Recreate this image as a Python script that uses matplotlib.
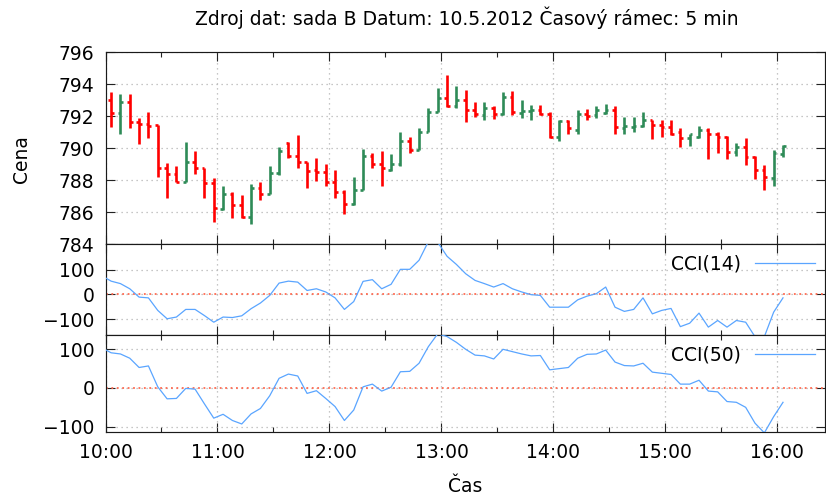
import numpy as np
import matplotlib
matplotlib.use("Agg")
import matplotlib.pyplot as plt
from matplotlib.ticker import FixedLocator, FuncFormatter, MultipleLocator

# ---------------- data ----------------
title = "Zdroj dat: sada B Datum: 10.5.2012 Časový rámec: 5 min"

# bar times in minutes after 10:00 (5-minute bars)
bar_minutes = [3 + 5 * k for k in range(73)]

opens = [793.0, 792.2, 792.9, 791.6, 791.5, 791.45, 788.75, 788.4, 787.85, 789.1,
         788.75, 787.8, 786.2, 787.1, 786.45, 785.7, 787.5, 787.15, 788.45, 790.3,
         789.5, 789.1, 788.6, 788.5, 787.9, 787.25, 786.5, 787.4, 789.5, 789.0,
         788.65, 789.0, 790.45, 789.9, 791.0, 792.25, 793.1, 792.6, 793.0, 792.4,
         792.05, 792.5, 792.15, 793.2, 792.2, 792.3, 792.35, 792.15, 790.7, 791.7,
         791.15, 792.15, 792.05, 792.2, 792.35, 791.25, 791.3, 791.4, 791.75, 791.45,
         791.3, 791.0, 790.6, 790.7, 791.1, 790.9, 790.7, 789.75, 790.05, 789.45,
         788.65, 788.15, 789.6]
highs = [793.5, 793.35, 793.35, 791.9, 792.25, 791.45, 789.05, 788.85, 790.35, 789.8,
         788.75, 788.1, 787.65, 787.25, 787.05, 787.75, 787.9, 788.85, 790.05, 790.4,
         790.8, 789.15, 789.4, 789.0, 788.65, 787.4, 788.2, 789.95, 789.7, 789.8,
         789.65, 791.0, 790.7, 791.25, 792.5, 793.75, 794.55, 793.85, 793.65, 792.85,
         792.85, 792.65, 793.5, 793.55, 793.0, 792.7, 792.7, 792.25, 791.75, 791.75,
         792.4, 792.45, 792.65, 792.75, 792.65, 791.95, 791.95, 792.25, 791.75, 791.75,
         791.75, 791.25, 790.9, 791.4, 791.25, 791.0, 790.75, 790.3, 790.65, 789.5,
         788.95, 789.9, 790.2]
lows = [791.3, 790.9, 791.25, 790.25, 790.6, 788.2, 786.9, 787.85, 787.85, 788.4,
        786.9, 785.4, 786.1, 785.65, 785.65, 785.25, 786.75, 787.15, 788.3, 789.35,
        788.75, 787.5, 787.95, 787.65, 786.85, 785.9, 786.45, 787.35, 788.75, 787.65,
        788.55, 788.85, 789.7, 789.85, 791.0, 792.25, 792.55, 792.5, 791.65, 791.95,
        791.75, 791.8, 792.05, 792.05, 791.85, 791.75, 792.05, 790.65, 790.45, 790.9,
        790.9, 791.75, 791.85, 792.1, 790.9, 790.9, 791.0, 791.3, 790.55, 790.7,
        790.8, 790.05, 790.15, 790.65, 789.3, 789.7, 789.3, 789.5, 788.95, 788.05,
        787.35, 787.65, 789.45]
closes = [792.2, 792.9, 791.65, 791.5, 791.35, 788.75, 788.4, 787.9, 789.1, 788.75,
          787.8, 786.25, 787.1, 786.45, 785.7, 787.5, 787.15, 788.45, 789.8, 789.5,
          789.1, 788.55, 788.5, 787.9, 787.25, 786.5, 787.4, 789.5, 789.0, 788.75,
          789.0, 790.45, 789.9, 791.0, 792.25, 793.1, 792.6, 793.0, 792.4, 792.15,
          792.5, 792.15, 793.2, 792.25, 792.3, 792.35, 792.15, 790.7, 791.7, 791.25,
          792.15, 792.0, 792.35, 792.35, 791.3, 791.4, 791.4, 791.75, 791.45, 791.3,
          790.9, 790.6, 790.85, 791.15, 790.9, 790.7, 789.75, 790.05, 789.45, 788.65,
          788.2, 789.7, 790.1]

# CCI values (first value belongs to the bar just before 10:00)
cci_minutes = [-2] + bar_minutes
cci14 = [76, 54, 44, 23, -11, -14, -65, -99, -92, -61,
         -61, -86, -113, -92, -94, -87, -58, -35, -4, 46,
         54, 50, 16, 23, 10, -14, -61, -29, 53, 60,
         23, 41, 102, 102, 139, 215, 212, 155, 122, 84,
         57, 44, 30, 44, 23, 10, -1, -4, -52, -52,
         -52, -22, -7, 3, 30, -52, -69, -61, -14, -79,
         -65, -57, -131, -117, -76, -133, -106, -133, -106, -113,
         -172, -172, -72, -14]
cci50 = [104, 91, 88, 77, 53, 57, 3, -28, -27, -1,
         -3, -41, -78, -68, -84, -93, -67, -53, -20, 25,
         36, 31, -14, -7, -27, -48, -84, -57, 3, 10,
         -8, 2, 42, 43, 64, 107, 140, 133, 118, 100,
         85, 83, 75, 100, 94, 88, 83, 84, 47, 50,
         53, 77, 87, 88, 98, 67, 58, 57, 64, 41,
         38, 35, 10, 10, 20, -8, -10, -35, -37, -50,
         -91, -116, -74, -37]

up_color = "#2e8b57"
down_color = "#ff0000"
cci_color = "#5aa5ff"
zero_color = "#ff6a50"

# ---------------- figure ----------------
plt.rcParams['font.family'] = ['DejaVu Sans']
FS = 13.5
W, H = 826, 497
fig = plt.figure(figsize=(W / 100, H / 100), dpi=100)

left = 105.5 / W
right = 825.0 / W
def ypos(top_px, bot_px):
    return [left, 1 - bot_px / H, right - left, (bot_px - top_px) / H]

ax1 = fig.add_axes(ypos(52, 244))
ax2 = fig.add_axes(ypos(244, 335))
ax3 = fig.add_axes(ypos(335, 431.7))

xmin, xmax = 0, 385.5
hour_ticks = [0, 60, 120, 180, 240, 300, 360]
half_ticks = [30, 90, 150, 210, 270, 330]

def fmt_time(v, pos):
    h = 10 + int(v // 60)
    m = int(v % 60)
    return f"{h}:{m:02d}"

grid_kw = dict(color="#b4b4b4", linestyle=(0, (1, 3)), linewidth=0.9)

for ax in (ax1, ax2, ax3):
    ax.set_xlim(xmin, xmax)
    ax.xaxis.set_major_locator(FixedLocator(hour_ticks))
    ax.xaxis.set_minor_locator(FixedLocator(half_ticks))
    ax.tick_params(axis="both", which="major", direction="in", length=6.5, width=0.8,
                   color="#222222", top=True, right=True, labelsize=FS, pad=8)
    ax.tick_params(axis="both", which="minor", direction="in", length=3.5, width=0.8,
                   color="#222222", top=True, right=True)
    ax.grid(True, which="major", **grid_kw)
    for s in ax.spines.values():
        s.set_linewidth(0.85)
        s.set_color("#1a1a1a")
    ax.set_axisbelow(True)

ax1.tick_params(labelbottom=False)
ax2.tick_params(labelbottom=False)
ax3.xaxis.set_major_formatter(FuncFormatter(fmt_time))

# ---------------- price bars ----------------
tick_len = 1.5
for t, o, h, l, c in zip(bar_minutes, opens, highs, lows, closes):
    col = up_color if c >= o else down_color
    ax1.plot([t, t], [l, h], color=col, lw=1.9, solid_capstyle="butt")
    ax1.plot([t - tick_len, t], [o, o], color=col, lw=1.9, solid_capstyle="butt")
    ax1.plot([t, t + tick_len], [c, c], color=col, lw=1.9, solid_capstyle="butt")

ax1.set_ylim(784, 796)
ax1.yaxis.set_major_locator(MultipleLocator(2))

# ---------------- CCI panels ----------------
def cci_panel(ax, vals, label, ylim):
    ax.axhline(0, color=zero_color, linestyle=(0, (1, 2)), lw=1.3, zorder=1)
    ax.plot(cci_minutes, vals, color=cci_color, lw=0.9, label=label, zorder=3)
    ax.set_ylim(*ylim)
    ax.yaxis.set_major_locator(FixedLocator([-100, 0, 100]))
    ax.legend(loc="upper right", frameon=False, markerfirst=False, fontsize=FS,
              handlelength=3.2, handletextpad=0.75, borderaxespad=0.25, borderpad=0.3)

cci_panel(ax2, cci14, "CCI(14)", (-165, 205))
cci_panel(ax3, cci50, "CCI(50)", (-113, 137))

# ---------------- texts ----------------
fig.text(467 / W, 1 - 18 / H, title, ha="center", va="center", fontsize=FS)
fig.text(21 / W, 1 - 159 / H, "Cena", ha="center", va="center", rotation=90, fontsize=FS)
fig.text(465 / W, 1 - 487 / H, "Čas", ha="center", va="center", fontsize=FS)

fig.savefig("out.png", dpi=100)
